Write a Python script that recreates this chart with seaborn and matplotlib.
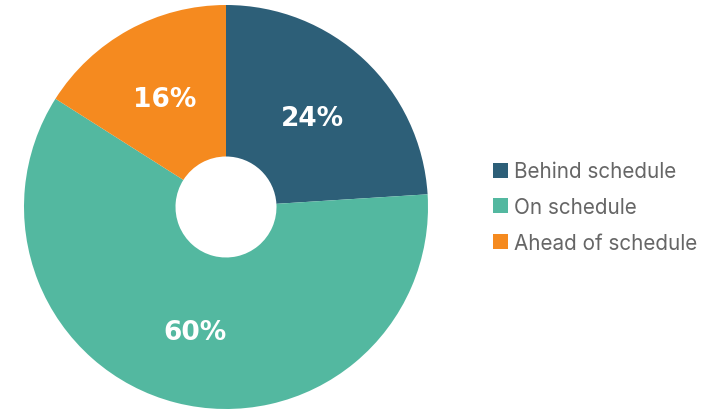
import matplotlib
matplotlib.use("Agg")
import matplotlib.pyplot as plt
import seaborn as sns
import numpy as np
from matplotlib.patches import Patch

# Schedule status breakdown
categories = ["Behind schedule", "On schedule", "Ahead of schedule"]
shares = [24, 60, 16]
pct_labels = ["24%", "60%", "16%"]

sns.set_theme(style="white")
palette = sns.color_palette(["#2D5F78", "#53B8A0", "#F58A1F"])
plt.rcParams["font.family"] = ["Inter", "DejaVu Sans"]

W, H = 726, 410
fig = plt.figure(figsize=(W / 100, H / 100), dpi=100)
cx, cy, r = 226, 208, 202
ax = fig.add_axes([(cx - r) / W, (H - cy - r) / H, 2 * r / W, 2 * r / H])

wedges, _ = ax.pie(
    shares,
    colors=palette,
    startangle=90,
    counterclock=False,
    radius=1,
    wedgeprops=dict(width=0.75, linewidth=0),
)

# Percentage labels placed at each wedge's mid-angle
start = 90.0
total = sum(shares)
for val, lab in zip(shares, pct_labels):
    sweep = 360.0 * val / total
    mid = np.deg2rad(start - sweep / 2)
    start -= sweep
    ax.text(0.625 * np.cos(mid), 0.625 * np.sin(mid), lab,
            ha="center", va="center_baseline", color="white",
            fontsize=19, fontweight="bold",
            family=["DejaVu Sans"])

ax.set_xlim(-1, 1)
ax.set_ylim(-1, 1)
ax.set_aspect("equal")
ax.axis("off")

handles = [Patch(facecolor=c, edgecolor="none") for c in palette]
fig.legend(handles, categories, loc="center left",
           bbox_to_anchor=(493 / W, 1 - 208 / H), frameon=False,
           fontsize=14.9, labelcolor="#666666",
           handlelength=0.72, handleheight=0.72, handletextpad=0.3,
           labelspacing=0.75, borderpad=0, borderaxespad=0)

fig.savefig("out.png", dpi=100, facecolor="white")
